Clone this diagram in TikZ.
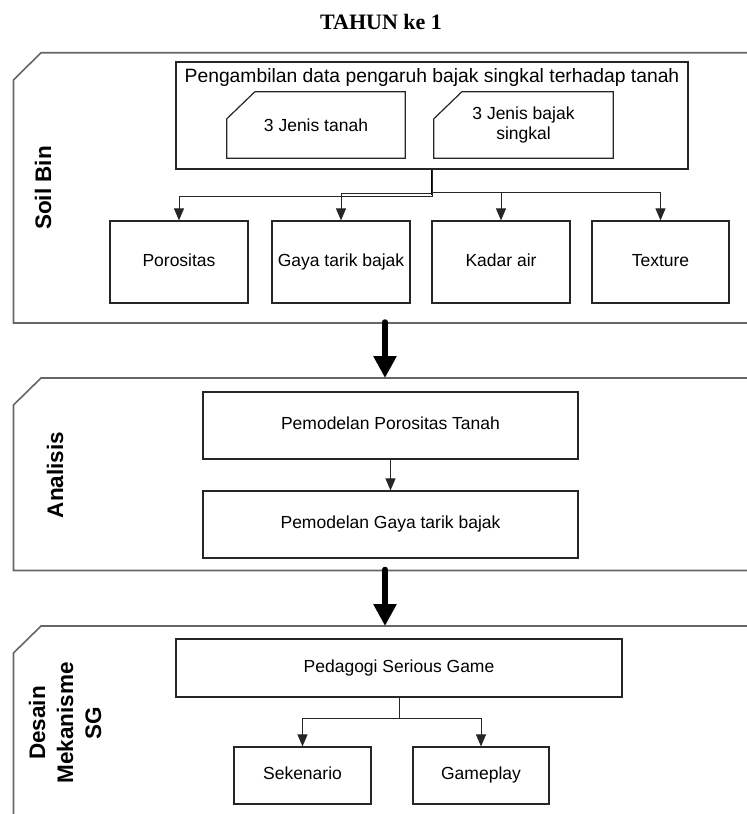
\documentclass[tikz,border=0pt]{standalone}
\usepackage{fontspec}
\setmainfont{Liberation Sans}
\newfontfamily\serifbold{Liberation Serif}
\usetikzlibrary{arrows.meta,calc}
\begin{document}
\begin{tikzpicture}[x=1pt,y=-1pt,
  lane/.style={draw=black!60,line width=1.6pt},
  box/.style={draw=black!85,line width=1.2pt,rectangle,inner sep=0pt,
    text height=12.5pt,text depth=3.7pt,font=\fontsize{17.5}{21}\selectfont},
  card/.style={rectangle,inner sep=0pt,align=center,font=\fontsize{17.5}{20}\selectfont},
  cardline/.style={draw=black!85,line width=1.2pt},
  lanelabel/.style={rotate=90,inner sep=0pt,align=center,
    font=\fontsize{22.5}{28}\selectfont\bfseries},
  link/.style={draw=black!85,line width=1pt,-{Triangle[length=12pt,width=10pt]}},
  bigarrow/.style={line width=5.5pt,line cap=round,-{Triangle[length=22pt,width=22pt]}}]

\fill[white] (0,0) rectangle (747,814);
\useasboundingbox (0,0) rectangle (747,814);

% title
\node[font=\serifbold\fontsize{22}{26}\selectfont\bfseries] (title) at (381,22) {TAHUN ke 1};

% swimlanes (open on the right)
\draw[lane] (747,52.7) -- (41,52.7) -- (13.5,80) -- (13.5,323) -- (747,323);
\draw[lane] (747,378) -- (41,378) -- (13.5,405) -- (13.5,570.5) -- (747,570.5);
\draw[lane] (747,626) -- (41,626) -- (13.5,653) -- (13.5,814);

\node[lanelabel] (l1) at (43,188) {Soil Bin};
\node[lanelabel] (l2) at (55,475) {Analisis};
\node[lanelabel] (l3) at (65,723) {Desain\\Mekanisme\\SG};

% lane 1: soil bin
\node[box,minimum width=512pt,minimum height=107pt] (pd) at (432,115.5) {};
\node[font=\fontsize{19.3}{23}\selectfont,inner sep=0pt] (pdt) at (432,78)
  {Pengambilan data pengaruh bajak singkal terhadap tanah};

\node[card,minimum width=178pt,minimum height=66pt] (jt) at (316,125) {3 Jenis tanah};
\node[card,minimum width=179pt,minimum height=66pt] (jb) at (523.5,125) {3 Jenis bajak\\singkal};
\foreach \c in {jt,jb}{
  \draw[cardline] ($(\c.north west)+(0,27)$) -- ($(\c.north west)+(28,0)$)
    -- (\c.north east) -- (\c.south east) -- (\c.south west) -- cycle;
}

\node[box,minimum width=138pt,minimum height=82pt] (por) at (179,262) {Porositas};
\node[box,minimum width=138pt,minimum height=82pt] (gaya) at (341,262) {Gaya tarik bajak};
\node[box,minimum width=138pt,minimum height=82pt] (kadar) at (501,262) {Kadar air};
\node[box,minimum width=137pt,minimum height=82pt] (tex) at (660.5,262) {Texture};

\draw[line width=2pt] (pd.south) -- ++(0,25);
\draw[link] (pd.south) -- ++(0,27) -| (por.north);
\draw[link] (pd.south) -- ++(0,23.5) -| (gaya.north);
\draw[link] (pd.south) -- ++(0,23) -| (kadar.north);
\draw[link] (pd.south) -- ++(0,23) -| (tex.north);

% lane 2: analisis
\node[box,minimum width=375pt,minimum height=67pt] (pm1) at (390.5,425.5) {Pemodelan Porositas Tanah};
\node[box,minimum width=375pt,minimum height=67pt] (pm2) at (390.5,524.5) {Pemodelan Gaya tarik bajak};
\draw[link] (pm1.south) -- (pm2.north);

% lane 3: desain mekanisme SG
\node[box,minimum width=446pt,minimum height=58pt] (psg) at (399,668) {Pedagogi Serious Game};
\node[box,minimum width=137pt,minimum height=57pt] (sek) at (302.5,775.5) {Sekenario};
\node[box,minimum width=136pt,minimum height=57pt] (game) at (481,775.5) {Gameplay};
\draw[link] (psg.south) -- ++(0,21) -| (sek.north);
\draw[link] (psg.south) -- ++(0,21) -| (game.north);

% flow between lanes
\coordinate (l1bot) at (385,322);
\coordinate (l2top) at (385,378);
\coordinate (l2bot) at (385,569.5);
\coordinate (l3top) at (385,626);
\draw[bigarrow] (l1bot) -- (l2top);
\draw[bigarrow] (l2bot) -- (l3top);
\end{tikzpicture}
\end{document}
